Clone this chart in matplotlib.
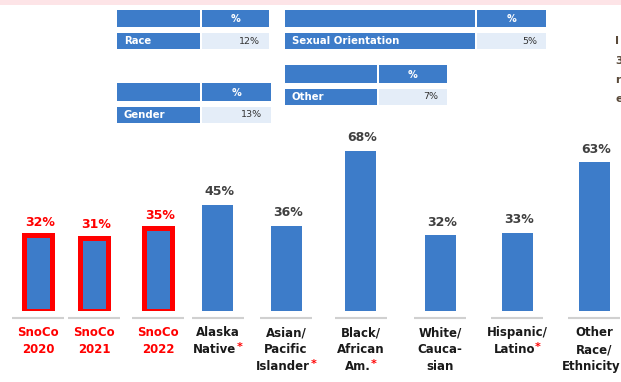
import matplotlib.pyplot as plt
from matplotlib.patches import Rectangle

# bar chart: percent by group
categories = ['SnoCo\n2020', 'SnoCo\n2021', 'SnoCo\n2022', 'Alaska\nNative*',
              'Asian/\nPacific\nIslander*', 'Black/\nAfrican\nAm.*',
              'White/\nCauca-\nsian', 'Hispanic/\nLatino*',
              'Other\nRace/\nEthnicity*']
values = [32, 31, 35, 45, 36, 68, 32, 33, 63]
is_county = [True, True, True, False, False, False, False, False, False]

# small summary tables
table_names = ['Race', 'Gender', 'Sexual Orientation', 'Other']
table_pcts = [12, 13, 5, 7]

# layout (pixels)
xpos = [38, 94, 158, 217.5, 286, 360.5, 440, 517, 594]
table_boxes = [(117, 83, 67, 9.5), (117, 83, 69, 83),
               (285, 190, 69, 9.5), (285, 92, 68, 65)]

BLUE = '#3d7cc9'
LIGHT = '#e4edf8'
RED = '#ff0000'
DARK = '#404040'

fig = plt.figure(figsize=(6.21, 3.82), dpi=100)

# background layer in pixel coordinates
bg = fig.add_axes([0, 0, 1, 1])
bg.set_xlim(0, 621)
bg.set_ylim(382, 0)
bg.axis('off')
bg.add_patch(Rectangle((0, 0), 621, 5, color='#fde4e7', lw=0))

for name, pct, (x0, lw_, pw, top) in zip(table_names, table_pcts, table_boxes):
    hh, gap, rh = 17.5, 6, 16
    bg.add_patch(Rectangle((x0, top), lw_, hh, color=BLUE, lw=0))
    bg.add_patch(Rectangle((x0 + lw_ + 2, top), pw, hh, color=BLUE, lw=0))
    bg.text(x0 + lw_ + 2 + pw / 2, top + hh / 2 + 1, '%', color='white',
            fontsize=7, fontweight='bold', ha='center', va='center')
    ry = top + hh + gap
    bg.add_patch(Rectangle((x0, ry), lw_, rh, color=BLUE, lw=0))
    bg.add_patch(Rectangle((x0 + lw_ + 2, ry), pw, rh, color=LIGHT, lw=0))
    bg.text(x0 + 7, ry + rh / 2, name, color='white', fontsize=7.3,
            fontweight='bold', ha='left', va='center')
    bg.text(x0 + lw_ + 2 + pw - 9, ry + rh / 2, f'{pct}%', color='#333333',
            fontsize=6.8, ha='right', va='center')

# cut-off text at the right edge
for ch, yy in zip(['I', '3', 'r', 'e'], [41, 61, 80, 99]):
    bg.text(615, yy, ch, color='#5a4a3a', fontsize=8, fontweight='bold',
            ha='left', va='center')

# bars
ax = fig.add_axes([0, 71 / 382, 1, 236 / 382])
ax.set_xlim(0, 621)
ax.set_ylim(0, 100)
ax.axis('off')

for x, v, county in zip(xpos, values, is_county):
    if county:
        ax.bar(x, v, width=28, color=BLUE, edgecolor=RED, linewidth=3.6)
    else:
        ax.bar(x, v, width=31, color=BLUE, linewidth=0)
    ax.annotate(f'{v}%', xy=(x, v), xytext=(1.5, 9.5),
                textcoords='offset points', ha='center', va='center',
                fontsize=9, fontweight='bold',
                color=RED if county else DARK)
    ax.hlines(-3, x - 26, x + 26, color='#d0d0d0', lw=1.5, clip_on=False)

for x, lab, county in zip(xpos, categories, is_county):
    for i, line in enumerate(lab.split('\n')):
        star = line.endswith('*')
        t = ax.annotate(line.rstrip('*'), xy=(x, 0),
                        xytext=(-2 if star else 0, -15.8 - 12.2 * i),
                        textcoords='offset points', ha='center', va='center',
                        fontsize=8.5, fontweight='bold',
                        color=RED if county else '#1a1a1a',
                        annotation_clip=False)
        if star:
            ax.annotate('*', xy=(1, 0.75), xycoords=t, ha='left',
                        va='center', color=RED, fontsize=8,
                        fontweight='bold', annotation_clip=False)

fig.savefig('out.png', dpi=100)
